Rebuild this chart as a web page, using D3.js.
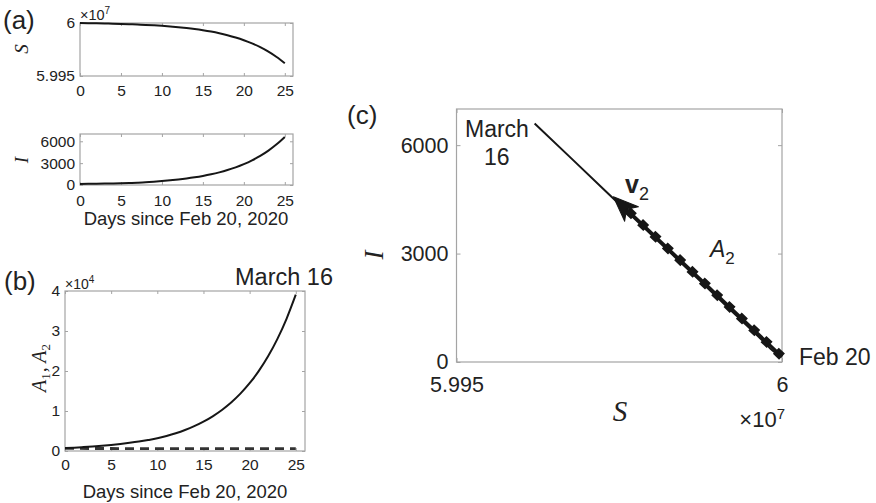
<!DOCTYPE html>
<html>
<head>
<meta charset="utf-8">
<script src="https://cdn.jsdelivr.net/npm/d3@7"></script>
<style>
  html, body { margin: 0; padding: 0; background: #fff; }
  svg { display: block; }
  text { font-family: "Liberation Sans", Arial, sans-serif; fill: #222; }
  .serif { font-family: "Liberation Serif", "DejaVu Serif", serif; font-style: italic; }
</style>
</head>
<body>
<svg id="fig" width="876" height="503"></svg>
<script>
// Days since Feb 20, 2020
const days = d3.range(0, 26);

// Susceptible population S (units of 1e7)
const S_e7 = [6.000000, 5.999985, 5.999968, 5.999950, 5.999930, 5.999908, 5.999883,
  5.999854, 5.999820, 5.999781, 5.999733, 5.999676, 5.999609, 5.999529, 5.999435,
  5.999323, 5.999192, 5.999036, 5.998852, 5.998635, 5.998378, 5.998075, 5.997716,
  5.997292, 5.996792, 5.996200];

// Infected population I
const I_vals = [150, 163, 178, 196, 217, 242, 276, 318, 370, 445, 535, 637, 753, 890,
  1052, 1243, 1469, 1736, 2051, 2424, 2865, 3385, 4000, 4727, 5585, 6600];

// Modal amplitudes (units of 1e4): A1 grows, A2 stays flat
const A1_e4 = [0.072, 0.083, 0.097, 0.112, 0.130, 0.151, 0.176, 0.204, 0.236, 0.274,
  0.318, 0.376, 0.444, 0.525, 0.621, 0.734, 0.868, 1.026, 1.212, 1.433, 1.694, 2.002,
  2.366, 2.797, 3.306, 3.908];
const A2_days = [0, 5, 10, 15, 20, 25];
const A2_e4 = [0.064, 0.062, 0.061, 0.060, 0.060, 0.059];

// Eigenvector v2 drawn in the (S, I) plane: [S (1e7), I]
const v2Start = [6.0, 150];
const v2End = [5.99741, 4570];

// Tick values
const dayTicks = [0, 5, 10, 15, 20, 25];
const sTicksA = [5.995, 6];
const iTicksA = [0, 3000, 6000];
const aTicksB = [0, 1, 2, 3, 4];
const sTicksC = [5.995, 6];
const iTicksC = [0, 3000, 6000];

const svg = d3.select("#fig");
const BOX = "#a4a4a4";
const INK = "#161616";

function frame(g, x, y, opt) {
  const [x0, x1] = x.range();
  const [y0, y1] = y.range();
  // inner ticks on all four sides
  const bottom = d3.axisBottom(x).tickValues(opt.xt).tickSizeInner(-opt.ts).tickSizeOuter(0)
    .tickPadding(opt.xp).tickFormat(opt.xf || d3.format(""));
  const left = d3.axisLeft(y).tickValues(opt.yt).tickSizeInner(-opt.ts).tickSizeOuter(0)
    .tickPadding(opt.yp).tickFormat(opt.yf);
  const top = d3.axisTop(x).tickValues(opt.xt).tickSizeInner(-opt.ts).tickSizeOuter(0).tickFormat("");
  const right = d3.axisRight(y).tickValues(opt.yt).tickSizeInner(-opt.ts).tickSizeOuter(0).tickFormat("");

  const gb = g.append("g").attr("transform", `translate(0,${y0})`).call(bottom);
  const gl = g.append("g").attr("transform", `translate(${x0},0)`).call(left);
  const gt = g.append("g").attr("transform", `translate(0,${y1})`).call(top);
  const gr = g.append("g").attr("transform", `translate(${x1},0)`).call(right);
  [gb, gl, gt, gr].forEach(a => {
    a.select(".domain").remove();
    a.selectAll("line").attr("stroke", BOX);
    a.selectAll("text").attr("fill", "#222").attr("font-family", "Liberation Sans, Arial, sans-serif")
      .attr("font-size", opt.fs);
  });
  g.append("rect").attr("x", x0).attr("y", y1).attr("width", x1 - x0).attr("height", y0 - y1)
    .attr("fill", "none").attr("stroke", BOX).attr("stroke-width", 1.2);
}

// ---------- (a) top: S(t) ----------
{
  const x = d3.scaleLinear().domain([0, 26]).range([80, 293]);
  const y = d3.scaleLinear().domain([5.995, 6]).range([76, 23]);
  const g = svg.append("g");
  frame(g, x, y, { xt: dayTicks, yt: sTicksA, ts: 3, xp: 9, yp: 5, fs: 15.5,
    yf: d => d === 6 ? "6" : d3.format(".3f")(d) });
  g.append("path").datum(days)
    .attr("d", d3.line().x(d => x(d)).y(d => y(S_e7[d])).curve(d3.curveMonotoneX))
    .attr("fill", "none").attr("stroke", INK).attr("stroke-width", 2);
  const m = g.append("text").attr("x", 80).attr("y", 20).attr("font-size", 14.5);
  m.append("tspan").text("×10");
  m.append("tspan").attr("dy", -6).attr("font-size", 10).text("7");
  g.append("text").attr("class", "serif").attr("font-size", 19)
    .attr("transform", "translate(28,49) rotate(-90)").attr("text-anchor", "middle").text("S");
  g.append("text").attr("x", 3).attr("y", 29).attr("font-size", 26).text("(a)");
}

// ---------- (a) bottom: I(t) ----------
{
  const x = d3.scaleLinear().domain([0, 26]).range([80, 293]);
  const y = d3.scaleLinear().domain([0, 7000]).range([185, 134]);
  const g = svg.append("g");
  frame(g, x, y, { xt: dayTicks, yt: iTicksA, ts: 3, xp: 10, yp: 5, fs: 15.5, yf: d3.format("d") });
  g.append("path").datum(days)
    .attr("d", d3.line().x(d => x(d)).y(d => y(I_vals[d])).curve(d3.curveMonotoneX))
    .attr("fill", "none").attr("stroke", INK).attr("stroke-width", 2);
  g.append("text").attr("class", "serif").attr("font-size", 19)
    .attr("transform", "translate(28,160) rotate(-90)").attr("text-anchor", "middle").text("I");
  g.append("text").attr("x", 186).attr("y", 225).attr("text-anchor", "middle")
    .attr("font-size", 18.5).text("Days since Feb 20, 2020");
}

// ---------- (b) A1, A2 ----------
{
  const x = d3.scaleLinear().domain([0, 26]).range([65, 305]);
  const y = d3.scaleLinear().domain([0, 4]).range([451, 291]);
  const g = svg.append("g");
  frame(g, x, y, { xt: dayTicks, yt: aTicksB, ts: 3, xp: 8, yp: 5, fs: 15.5, yf: d3.format("d") });
  g.append("path").datum(A2_days.map((d, i) => [d, A2_e4[i]]))
    .attr("d", d3.line().x(d => x(d[0])).y(d => y(d[1])))
    .attr("fill", "none").attr("stroke", "#333").attr("stroke-width", 2.8)
    .attr("stroke-dasharray", "9,6");
  g.append("path").datum(days)
    .attr("d", d3.line().x(d => x(d)).y(d => y(A1_e4[d])).curve(d3.curveMonotoneX))
    .attr("fill", "none").attr("stroke", INK).attr("stroke-width", 2);
  const m = g.append("text").attr("x", 65).attr("y", 289).attr("font-size", 14);
  m.append("tspan").text("×10");
  m.append("tspan").attr("dy", -6).attr("font-size", 10).text("4");
  const yl = g.append("text").attr("class", "serif").attr("font-size", 20)
    .attr("transform", "translate(46,368) rotate(-90)").attr("text-anchor", "middle")
    .attr("xml:space", "preserve");
  yl.append("tspan").text("A");
  yl.append("tspan").attr("dy", 4).attr("font-size", 13).attr("font-style", "normal").text("1");
  yl.append("tspan").attr("dy", -4).attr("dx", 1).text(", A");
  yl.append("tspan").attr("dy", 4).attr("font-size", 13).attr("font-style", "normal").text("2");
  g.append("text").attr("x", 185).attr("y", 498).attr("text-anchor", "middle")
    .attr("font-size", 18.5).text("Days since Feb 20, 2020");
  g.append("text").attr("x", 235).attr("y", 285).attr("font-size", 23.5).text("March 16");
  g.append("text").attr("x", 4).attr("y", 290).attr("font-size", 26).text("(b)");
}

// ---------- (c) phase plane (S, I) ----------
{
  const x = d3.scaleLinear().domain([5.995, 6]).range([456.5, 782]);
  const y = d3.scaleLinear().domain([0, 7000]).range([362, 109]);
  const g = svg.append("g");
  frame(g, x, y, { xt: sTicksC, yt: iTicksC, ts: 4, xp: 15, yp: 8, fs: 21.5,
    xf: d => d === 6 ? "6" : d3.format(".3f")(d), yf: d3.format("d") });

  // trajectory
  g.append("path").datum(days)
    .attr("d", d3.line().x(d => x(S_e7[d])).y(d => y(I_vals[d])))
    .attr("fill", "none").attr("stroke", INK).attr("stroke-width", 2);

  // v2 arrow: thick shaft with square markers, filled head
  const x0 = x(v2Start[0]), y0 = y(v2Start[1]);
  const x1 = x(v2End[0]), y1 = y(v2End[1]);
  const ang = Math.atan2(y1 - y0, x1 - x0);
  const bx = x1 - 16 * Math.cos(ang), by = y1 - 16 * Math.sin(ang);
  g.append("path").attr("d", d3.line()([[x0, y0], [bx, by]]))
    .attr("fill", "none").attr("stroke", INK).attr("stroke-width", 3.2);
  g.append("path").attr("d", d3.line()([[x0, y0], [bx, by]]))
    .attr("fill", "none").attr("stroke", INK).attr("stroke-width", 8.5)
    .attr("stroke-dasharray", "8.5,8.5");
  g.append("path").attr("d", "M0,0 L-25,-10 L-18,0 L-25,10 Z")
    .attr("transform", `translate(${x1},${y1}) rotate(${ang * 180 / Math.PI})`)
    .attr("fill", INK).attr("stroke", INK).attr("stroke-width", 1).attr("stroke-linejoin", "round");

  // labels
  const v = g.append("text").attr("x", 625).attr("y", 193).attr("font-size", 25).attr("font-weight", "bold");
  v.append("tspan").text("v");
  v.append("tspan").attr("dy", 7).attr("font-size", 18).attr("font-weight", "normal").text("2");
  const a = g.append("text").attr("x", 710).attr("y", 257).attr("font-size", 23).attr("font-style", "italic");
  a.append("tspan").text("A");
  a.append("tspan").attr("dy", 7).attr("font-size", 17).attr("font-style", "normal").text("2");
  g.append("text").attr("x", 465).attr("y", 137).attr("font-size", 23).text("March");
  g.append("text").attr("x", 484).attr("y", 165).attr("font-size", 23).text("16");
  g.append("text").attr("x", 799).attr("y", 365).attr("font-size", 23).text("Feb 20");
  g.append("text").attr("class", "serif").attr("font-size", 27)
    .attr("transform", "translate(383,255) rotate(-90)").attr("text-anchor", "middle").text("I");
  g.append("text").attr("class", "serif").attr("font-size", 29)
    .attr("x", 620).attr("y", 421).attr("text-anchor", "middle").text("S");
  const m = g.append("text").attr("x", 785).attr("y", 427).attr("font-size", 22).attr("text-anchor", "end");
  m.append("tspan").text("×10");
  m.append("tspan").attr("dy", -8).attr("font-size", 15).text("7");
  g.append("text").attr("x", 347).attr("y", 124).attr("font-size", 26).text("(c)");
}
</script>
</body>
</html>
